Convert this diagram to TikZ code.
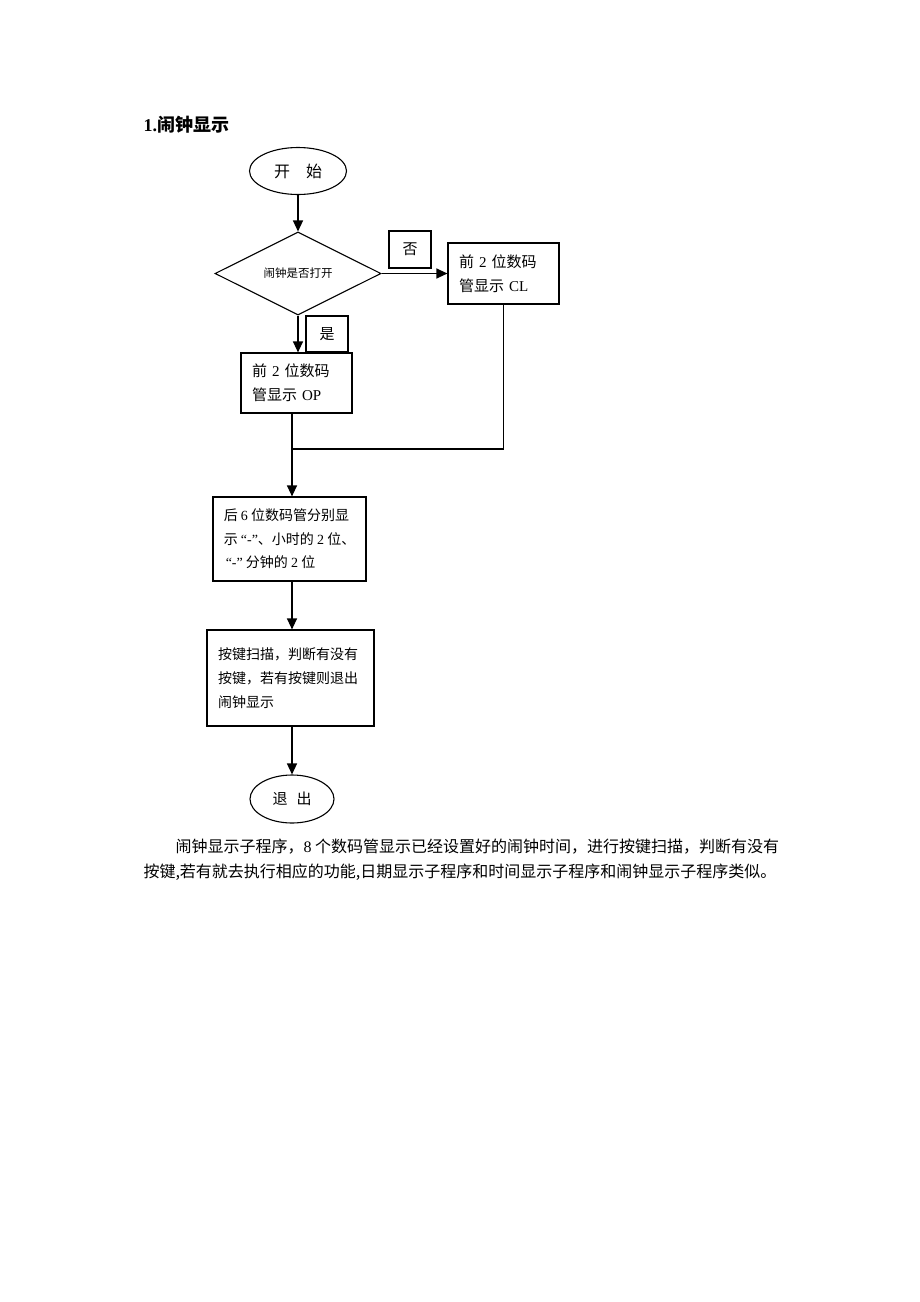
\documentclass[tikz,border=0pt]{standalone}
\usepackage{fontspec}
\setmainfont{Noto Sans CJK SC}
\newfontfamily\en{Liberation Serif}
\usetikzlibrary{shapes.geometric,arrows.meta}
\tikzset{
  every node/.style={font=\fontsize{15}{24}\selectfont},
  term/.style={draw, ellipse, line width=1.1pt, inner sep=0pt},
  decide/.style={draw, diamond, aspect=2, line width=1.1pt, inner sep=0pt,
    minimum width=166pt, minimum height=83pt},
  proc/.style={draw, rectangle, line width=1.2pt, align=left, inner xsep=11pt},
  tag/.style={draw, rectangle, line width=1.2pt, inner sep=0pt,
    minimum width=42pt, minimum height=37pt},
  flow/.style={line width=1.3pt, -{Triangle[length=11pt,width=10pt]}},
  link/.style={line width=1.2pt}
}

\begin{document}
\begin{tikzpicture}[x={(1pt,0)}, y={(0,-1pt)}]
  \fill[white] (0,0) rectangle (920,1302);
  \useasboundingbox (0,0) rectangle (920,1302);
  \node[anchor=base west, font=\fontsize{18}{18}\selectfont\bfseries] (title) at (140,131) {{\en 1.}闹钟显示};

  \node[term, minimum width=97pt, minimum height=47pt, font=\fontsize{16}{16}\selectfont] (start) at (298,171) {开\hspace{1em}始};
  \node[decide, font=\fontsize{11.5}{12}\selectfont] (alarm) at (298,273.5) {闹钟是否打开};
  \node[proc, minimum width=111pt, minimum height=61pt, text width=89pt] (cl) at (503.5,273.5) {前 {\en 2} 位数码\\管显示 {\en CL}};
  \node[proc, minimum width=111pt, minimum height=60pt, text width=89pt] (op) at (296.5,383) {前 {\en 2} 位数码\\管显示 {\en OP}};
  \node[tag] (no) at (410,249.5) {否};
  \node[tag, minimum height=36pt] (yes) at (327,334) {是};
  \node[proc, minimum width=153pt, minimum height=84pt, inner xsep=5pt, font=\fontsize{14}{23.5}\selectfont] (six) at (289.5,539) {后 {\en 6} 位数码管分别显\\示 {\en “-”}、小时的 {\en 2} 位、\\\hspace*{2pt}{\en “-”} 分钟的 {\en 2} 位};
  \node[proc, minimum width=167pt, minimum height=96pt, text width=145pt, font=\fontsize{14}{24}\selectfont] (scan) at (290.5,678) {按键扫描，判断有没有\\按键，若有按键则退出\\闹钟显示};
  \node[term, minimum width=84pt, minimum height=48pt] (exit) at (292,799) {退\hspace{0.6em}出};

  \coordinate (join) at (292,449);
  \draw[flow] (start) -- (alarm);
  \draw[flow] (alarm.east) -- (cl.west);
  \draw[flow] (alarm.south) -- (alarm.south |- op.north);
  \draw[link] (join |- op.south) -- (join);
  \draw[link] (cl.south) |- (join);
  \draw[flow] (join) -- (join |- six.north);
  \draw[flow] (join |- six.south) -- (join |- scan.north);
  \draw[flow] (join |- scan.south) -- (exit.north);

  \node[anchor=base west, font=\fontsize{16}{16}\selectfont] (para1) at (172,852) {闹钟显示子程序，{\en 8} 个数码管显示已经设置好的闹钟时间，进行按键扫描，判断有没有};
  \node[anchor=base west, font=\fontsize{16}{16}\selectfont] (para2) at (140,877) {按键,若有就去执行相应的功能,日期显示子程序和时间显示子程序和闹钟显示子程序类似。};
\end{tikzpicture}
\end{document}
